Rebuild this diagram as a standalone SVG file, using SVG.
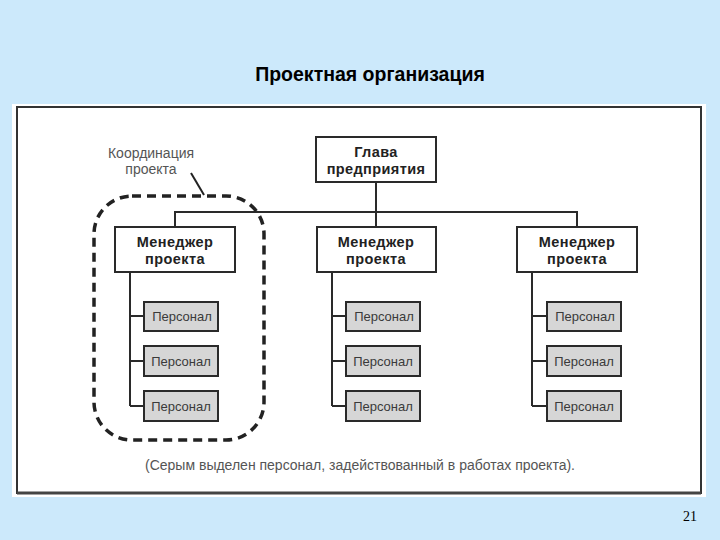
<svg xmlns="http://www.w3.org/2000/svg" width="720" height="540" viewBox="0 0 720 540">
<style>
.box{fill:#fff;stroke:#2a2a2a;stroke-width:2}
.pbox{fill:#d6d6d6;stroke:#2a2a2a;stroke-width:2}
.b{font-family:"Liberation Sans",Arial,sans-serif;font-weight:bold;font-size:14.5px;fill:#222;text-anchor:middle;letter-spacing:0.4px}
.p{font-family:"Liberation Sans",Arial,sans-serif;font-size:13px;fill:#3a3a3a;text-anchor:middle}
.n{font-family:"Liberation Sans",Arial,sans-serif;font-size:14px;fill:#555}
.ln{fill:none;stroke:#2a2a2a;stroke-width:2}
</style>
<rect width="720" height="540" fill="#cce9fb"/>
<text x="370" y="81" font-family="Liberation Sans,Arial,sans-serif" font-weight="bold" font-size="19.5" text-anchor="middle" fill="#000">Проектная организация</text>
<rect x="12" y="104" width="694" height="393" fill="#fff"/>
<rect x="17" y="107" width="684" height="386" fill="none" stroke="#333" stroke-width="2"/>
<line x1="17" y1="493" x2="701" y2="493" stroke="#444" stroke-width="3"/>
<g id="connectors">
<path class="ln" d="M376 182V212M175 227V212H577V227M376 212V227"/>
<path class="ln" d="M130 272V406M130 316H144M130 361H144M130 406H144"/>
<path class="ln" d="M332 272V406M332 316H346M332 361H346M332 406H346"/>
<path class="ln" d="M532 272V406M532 316H547M532 361H547M532 406H547"/>
</g>
<g id="head"><rect class="box" x="316" y="137" width="120" height="45"/><text class="b" x="376" y="157">Глава</text><text class="b" x="376" y="174">предприятия</text></g>
<g id="m1"><rect class="box" x="115" y="227" width="120" height="45"/><text class="b" x="175" y="247">Менеджер</text><text class="b" x="175" y="264">проекта</text></g>
<g id="m2"><rect class="box" x="317" y="227" width="119" height="45"/><text class="b" x="376" y="247">Менеджер</text><text class="b" x="376" y="264">проекта</text></g>
<g id="m3"><rect class="box" x="517" y="227" width="120" height="45"/><text class="b" x="577" y="247">Менеджер</text><text class="b" x="577" y="264">проекта</text></g>
<g id="p11"><rect class="pbox" x="144" y="302" width="74" height="29"/><text class="p" x="182" y="321">Персонал</text></g>
<g id="p12"><rect class="pbox" x="144" y="346" width="74" height="30"/><text class="p" x="181" y="366">Персонал</text></g>
<g id="p13"><rect class="pbox" x="144" y="391" width="74" height="30"/><text class="p" x="181" y="411">Персонал</text></g>
<g id="p21"><rect class="pbox" x="346" y="302" width="74" height="29"/><text class="p" x="384" y="321">Персонал</text></g>
<g id="p22"><rect class="pbox" x="346" y="346" width="74" height="30"/><text class="p" x="383" y="366">Персонал</text></g>
<g id="p23"><rect class="pbox" x="346" y="391" width="74" height="30"/><text class="p" x="383" y="411">Персонал</text></g>
<g id="p31"><rect class="pbox" x="547" y="302" width="74" height="29"/><text class="p" x="585" y="321">Персонал</text></g>
<g id="p32"><rect class="pbox" x="547" y="346" width="74" height="30"/><text class="p" x="584" y="366">Персонал</text></g>
<g id="p33"><rect class="pbox" x="547" y="391" width="74" height="30"/><text class="p" x="584" y="411">Персонал</text></g>
<g id="coord">
<rect x="94" y="196" width="170" height="244" rx="38" ry="38" fill="none" stroke="#222" stroke-width="3.5" stroke-dasharray="9 6"/>
<line x1="191" y1="173" x2="204" y2="195" stroke="#222" stroke-width="2"/>
<text class="n" x="151" y="158" text-anchor="middle">Координация</text>
<text class="n" x="151" y="174" text-anchor="middle">проекта</text>
</g>
<text class="n" x="360" y="470" text-anchor="middle" font-size="14.3">(Серым выделен персонал, задействованный в работах проекта).</text>
<text x="690" y="521" font-family="Liberation Serif,Times New Roman,serif" font-size="14" text-anchor="middle" fill="#000">21</text>
</svg>
